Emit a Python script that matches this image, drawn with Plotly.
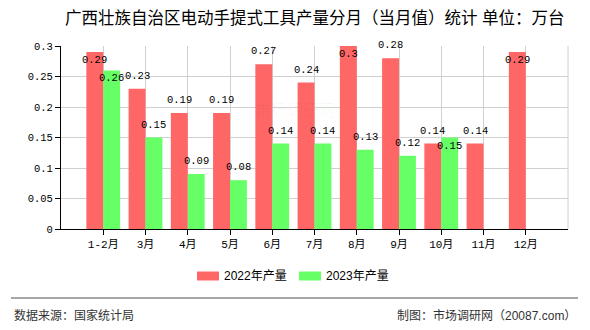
import plotly.graph_objects as go

# 广西壮族自治区电动手提式工具产量（万台）
months = ["1-2月", "3月", "4月", "5月", "6月", "7月", "8月", "9月", "10月", "11月", "12月"]
output_2022 = [0.29, 0.23, 0.19, 0.19, 0.27, 0.24, 0.30, 0.28, 0.14, 0.14, 0.29]
output_2023 = [0.26, 0.15, 0.09, 0.08, 0.14, 0.14, 0.13, 0.12, 0.15, None, None]
y_ticks = [0, 0.05, 0.1, 0.15, 0.2, 0.25, 0.3]
y_tick_text = ["0", "0.05", "0.1", "0.15", "0.2", "0.25", "0.3"]

# value labels that sit just inside the bar top instead of above it
inside_2022 = {0, 6, 10}
inside_2023 = {0, 8}

RED = "#FF6666"
GREEN = "#66FF66"
MONO = "Liberation Mono, Noto Sans CJK SC, monospace"
CJK = "Liberation Sans, Noto Sans CJK SC, sans-serif"

W, H = 590, 330
L, R, T, B = 61, 568, 46, 229


def px(x):
    return (x - L) / (R - L)


def py(y):
    return (B - y) / (B - T)


xs = list(range(len(months)))

fig = go.Figure()
fig.add_trace(go.Bar(x=xs, y=output_2022, name="2022年产量",
                     marker=dict(color=RED, line=dict(width=0))))
fig.add_trace(go.Bar(x=xs, y=output_2023, name="2023年产量",
                     marker=dict(color=GREEN, line=dict(width=0))))

annotations = []

# faint watermark behind the bars
annotations.append(dict(x=px(295), y=py(110), xref="paper", yref="paper",
                        text="市场调研网", showarrow=False,
                        xanchor="center", yanchor="middle",
                        font=dict(family=CJK, size=16, color="rgba(0,0,0,0.035)")))

for series, offset, inside in ((output_2022, -0.2, inside_2022),
                               (output_2023, 0.2, inside_2023)):
    for i, v in enumerate(series):
        if v is None:
            continue
        annotations.append(dict(
            x=i + offset, y=v, xref="x", yref="y", text=f"{v:g}",
            showarrow=False, xanchor="center", yanchor="middle",
            yshift=-8 if i in inside else 13,
            font=dict(family=MONO, size=10.5, color="#000")))

# title
annotations.append(dict(x=0.5, y=py(18), xref="paper", yref="paper",
                        text="广西壮族自治区电动手提式工具产量分月（当月值）统计 单位：万台",
                        showarrow=False, xanchor="center", yanchor="middle",
                        font=dict(family=CJK, size=16.5, color="#000")))

# legend
shapes = []
legend_items = [(197, RED, "2022年产量"), (299, GREEN, "2023年产量")]
for x0, color, label in legend_items:
    shapes.append(dict(type="rect", xref="paper", yref="paper",
                       x0=px(x0), x1=px(x0 + 22), y0=py(280.5), y1=py(271.5),
                       fillcolor=color, line=dict(width=0)))
    annotations.append(dict(x=px(x0 + 25), y=py(276), xref="paper", yref="paper",
                            text=label, showarrow=False, xanchor="left", yanchor="middle",
                            font=dict(family=CJK, size=12, color="#000")))

# footer
shapes.append(dict(type="line", xref="paper", yref="paper",
                   x0=px(11), x1=px(578), y0=py(298), y1=py(298),
                   line=dict(color="#888", width=1.5)))
annotations.append(dict(x=px(12), y=py(315), xref="paper", yref="paper",
                        text="数据来源：国家统计局", showarrow=False,
                        xanchor="left", yanchor="middle",
                        font=dict(family=CJK, size=12, color="#333")))
annotations.append(dict(x=px(578), y=py(315), xref="paper", yref="paper",
                        text="制图：市场调研网（20087.com）", showarrow=False,
                        xanchor="right", yanchor="middle",
                        font=dict(family=CJK, size=12, color="#333")))

# right border of the plot area
shapes.append(dict(type="line", xref="paper", yref="paper", x0=1, x1=1, y0=0, y1=1,
                   line=dict(color="#d0d0d0", width=1)))

fig.update_layout(
    width=W, height=H,
    margin=dict(l=L, r=W - R, t=T, b=H - B),
    paper_bgcolor="white", plot_bgcolor="white",
    barmode="group", bargap=0.2, bargroupgap=0,
    showlegend=False,
    annotations=annotations, shapes=shapes,
    xaxis=dict(range=[-1, len(months)], tickmode="array", tickvals=xs,
               ticktext=months, showgrid=True, gridcolor="#d0d0d0", gridwidth=1,
               showline=True, linecolor="#000", linewidth=1,
               ticks="outside", ticklen=5, tickcolor="#000",
               tickfont=dict(family=MONO, size=11, color="#000"),
               zeroline=False, fixedrange=True),
    yaxis=dict(range=[0, 0.3], tickmode="array", tickvals=y_ticks,
               ticktext=y_tick_text, showgrid=True, gridcolor="#d0d0d0", gridwidth=1,
               showline=True, linecolor="#000", linewidth=1,
               ticks="outside", ticklen=5, tickcolor="#000",
               tickfont=dict(family=MONO, size=10.5, color="#000"),
               zeroline=False, fixedrange=True),
)

fig.write_html("out.html")
